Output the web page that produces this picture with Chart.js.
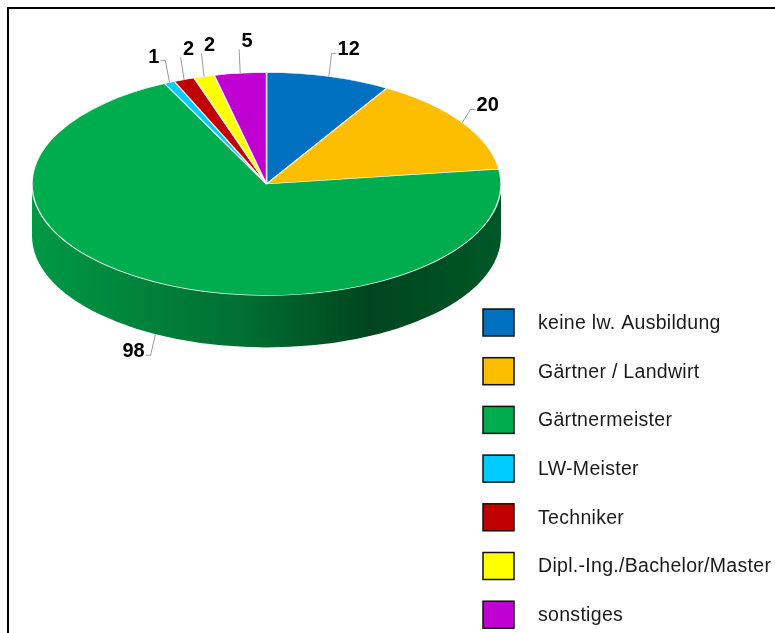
<!DOCTYPE html>
<html>
<head>
<meta charset="utf-8">
<script src="https://cdn.jsdelivr.net/npm/chart.js@4/dist/chart.umd.min.js"></script>
<style>
  html, body { margin: 0; padding: 0; background: #fff; }
  #wrap { position: relative; width: 775px; height: 633px; overflow: hidden; }
  #frame { position: absolute; left: 7px; top: 7px; width: 900px; height: 800px;
           border-left: 2px solid #000; border-top: 2px solid #000; }
  canvas { position: absolute; left: 0; top: 0; }
</style>
</head>
<body>
<div id="wrap">
  <div id="frame"></div>
  <canvas id="chart" width="775" height="633"></canvas>
</div>
<script>
const categories = [
    'keine lw. Ausbildung',
    'Gärtner / Landwirt',
    'Gärtnermeister',
    'LW-Meister',
    'Techniker',
    'Dipl.-Ing./Bachelor/Master',
    'sonstiges',
];
const counts = [12, 20, 98, 1, 2, 2, 5];
const colors = ['#0070c0', '#fdbd00', '#00ad4e', '#00ccff', '#c00000', '#ffff00', '#c000d2'];

// geometry of the tilted pie on screen
const view = { cx: 266.5, cy: 184, rx: 234.5, ry: 111.5, depth: 52 };

function shade(hex, f) {
    const n = parseInt(hex.slice(1), 16);
    const r = Math.round(((n >> 16) & 255) * f);
    const g = Math.round(((n >> 8) & 255) * f);
    const b = Math.round((n & 255) * f);
    return 'rgb(' + r + ',' + g + ',' + b + ')';
}

const tiltPlugin = {
    id: 'tilt',
    beforeDatasetsDraw(chart) {
        const ctx = chart.ctx;
        const arcs = chart.getDatasetMeta(0).data;
        const { cx, cy, rx, ry, depth } = view;

        // side wall for the front half
        arcs.forEach((arc, i) => {
            const p = arc.getProps(['startAngle', 'endAngle']);
            [0, Math.PI * 2, -Math.PI * 2].forEach(shift => {
                const a = Math.max(p.startAngle + shift, 0);
                const b = Math.min(p.endAngle + shift, Math.PI);
                if (b <= a) return;
                const grad = ctx.createLinearGradient(cx - rx, 0, cx + rx, 0);
                grad.addColorStop(0, shade(colors[i], 0.88));
                grad.addColorStop(0.45, shade(colors[i], 0.64));
                grad.addColorStop(0.72, shade(colors[i], 0.4));
                grad.addColorStop(1, shade(colors[i], 0.5));
                ctx.save();
                ctx.beginPath();
                ctx.ellipse(cx, cy, rx, ry, 0, a, b);
                ctx.ellipse(cx, cy + depth, rx, ry, 0, b, a, true);
                ctx.closePath();
                ctx.fillStyle = grad;
                ctx.fill();
                ctx.restore();
            });
        });

        const first = arcs[0];
        const r = first.outerRadius;
        ctx.save();
        ctx.translate(cx, cy);
        ctx.scale(rx / r, ry / r);
        ctx.translate(-first.x, -first.y);
    },
    afterDatasetsDraw(chart) {
        chart.ctx.restore();
    },
};

const labelPlugin = {
    id: 'sliceLabels',
    afterDatasetsDraw(chart) {
        const ctx = chart.ctx;
        const arcs = chart.getDatasetMeta(0).data;
        const { cx, cy, rx, ry, depth } = view;
        ctx.save();
        ctx.font = 'bold 20px "Liberation Sans", Arial, sans-serif';
        ctx.fillStyle = '#000';
        ctx.strokeStyle = '#9a9a9a';
        ctx.lineWidth = 1;
        arcs.forEach((arc, i) => {
            const p = arc.getProps(['startAngle', 'endAngle']);
            const mid = (p.startAngle + p.endAngle) / 2;
            const c = Math.cos(mid), s = Math.sin(mid);
            const drop = s > 0 ? depth : 0;
            const ax = cx + rx * c, ay = cy + ry * s + drop;
            const ex = cx + (rx + 10) * c, ey = cy + (ry + 24) * s + drop;
            const text = String(counts[i]);
            ctx.beginPath();
            ctx.moveTo(ax, ay);
            ctx.lineTo(ex, ey);
            if (c < 0 && Math.abs(c) < 0.4) {
                ctx.stroke();
                ctx.textAlign = 'center';
                ctx.textBaseline = 'alphabetic';
                ctx.fillText(text, ex + 8, ey - 2);
            } else {
                const dir = c >= 0 ? 1 : -1;
                ctx.lineTo(ex + 5 * dir, ey);
                ctx.stroke();
                ctx.textAlign = dir > 0 ? 'left' : 'right';
                ctx.textBaseline = 'alphabetic';
                ctx.fillText(text, ex + 6 * dir, ey + 2);
            }
        });
        ctx.restore();
    },
};

const legendPlugin = {
    id: 'sideLegend',
    afterDraw(chart) {
        const ctx = chart.ctx;
        const x = 483, top = 309, bw = 31, bh = 27, step = 48.7;
        ctx.save();
        ctx.font = '19.5px "Liberation Sans", Arial, sans-serif';
        ctx.letterSpacing = '0.3px';
        ctx.textBaseline = 'middle';
        ctx.textAlign = 'left';
        chart.data.labels.forEach((label, i) => {
            const y = top + i * step;
            ctx.fillStyle = chart.data.datasets[0].backgroundColor[i];
            ctx.fillRect(x, y, bw, bh);
            ctx.strokeStyle = '#111';
            ctx.lineWidth = 1.5;
            ctx.strokeRect(x, y, bw, bh);
            ctx.fillStyle = '#1a1a1a';
            ctx.fillText(label, 538, y + bh / 2 + 1);
        });
        ctx.restore();
    },
};

new Chart(document.getElementById('chart'), {
    type: 'pie',
    data: {
        labels: categories,
        datasets: [
            {
                data: counts,
                backgroundColor: colors,
                borderColor: 'rgba(255,255,255,0.85)',
                borderWidth: 1.5,
            },
        ],
    },
    options: {
        responsive: false,
        animation: false,
        layout: {
            padding: { left: 32, right: 274, top: 40, bottom: 124 },
        },
        plugins: {
            legend: { display: false },
            tooltip: { enabled: false },
        },
    },
    plugins: [tiltPlugin, labelPlugin, legendPlugin],
});
</script>
</body>
</html>
